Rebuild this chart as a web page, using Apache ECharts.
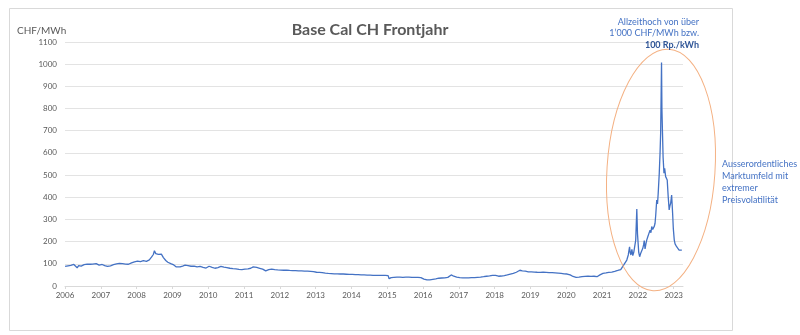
<!DOCTYPE html>
<html>
<head>
<meta charset="utf-8">
<script src="https://cdn.jsdelivr.net/npm/echarts@6/dist/echarts.min.js"></script>
<style>
  html, body { margin: 0; padding: 0; background: #ffffff; }
  #chart { width: 800px; height: 335px; }
</style>
</head>
<body>
<div id="chart"></div>
<script>
// Base Cal CH front-year price, CHF/MWh
const dates = [
  '2006-01-02','2006-02-01','2006-03-01','2006-04-01','2006-04-20','2006-05-05','2006-05-20','2006-06-15','2006-07-15','2006-08-15','2006-09-15','2006-10-10','2006-10-25','2006-11-15','2006-12-15',
  '2007-01-15','2007-02-10','2007-03-10','2007-04-10','2007-05-10','2007-06-10','2007-07-10','2007-08-10','2007-09-10','2007-10-10','2007-11-10','2007-12-10',
  '2008-01-10','2008-02-10','2008-03-10','2008-04-10','2008-05-10','2008-06-01','2008-06-20','2008-07-01','2008-07-15','2008-07-28','2008-08-10','2008-08-25','2008-09-10','2008-10-01','2008-10-25','2008-11-15','2008-12-15',
  '2009-01-15','2009-02-10','2009-03-01','2009-03-20','2009-04-15','2009-05-10','2009-06-10','2009-07-10','2009-08-10','2009-09-10','2009-10-10','2009-11-10','2009-12-10',
  '2010-01-10','2010-02-10','2010-03-10','2010-04-10','2010-05-10','2010-06-10','2010-07-10','2010-08-10','2010-09-10','2010-10-10','2010-11-10','2010-12-10',
  '2011-01-10','2011-02-10','2011-03-10','2011-04-05','2011-05-10','2011-06-10','2011-07-10','2011-08-10','2011-09-10','2011-10-10','2011-11-10','2011-12-10',
  '2012-01-10','2012-02-10','2012-03-10','2012-04-10','2012-05-10','2012-06-10','2012-07-10','2012-08-10','2012-09-10','2012-10-10','2012-11-10','2012-12-10',
  '2013-01-10','2013-02-10','2013-03-10','2013-04-10','2013-05-10','2013-06-10','2013-07-10','2013-08-10','2013-09-10','2013-10-10','2013-11-10','2013-12-10',
  '2014-01-10','2014-02-10','2014-03-10','2014-04-10','2014-05-10','2014-06-10','2014-07-10','2014-08-10','2014-09-10','2014-10-10','2014-11-10','2014-12-10',
  '2015-01-10','2015-01-20','2015-02-10','2015-03-10','2015-04-10','2015-05-10','2015-06-10','2015-07-10','2015-08-10','2015-09-10','2015-10-10','2015-11-10','2015-12-10',
  '2016-01-10','2016-02-10','2016-03-10','2016-04-10','2016-05-10','2016-06-10','2016-07-10','2016-08-10','2016-09-10','2016-10-15','2016-11-10','2016-12-10',
  '2017-01-10','2017-02-10','2017-03-10','2017-04-10','2017-05-10','2017-06-10','2017-07-10','2017-08-10','2017-09-10','2017-10-10','2017-11-10','2017-12-10',
  '2018-01-10','2018-02-10','2018-03-10','2018-04-10','2018-05-10','2018-06-10','2018-07-10','2018-08-10','2018-09-15','2018-10-10','2018-11-10','2018-12-10',
  '2019-01-10','2019-02-10','2019-03-10','2019-04-10','2019-05-10','2019-06-10','2019-07-10','2019-08-10','2019-09-10','2019-10-10','2019-11-10','2019-12-10',
  '2020-01-10','2020-02-10','2020-03-10','2020-04-10','2020-05-10','2020-06-10','2020-07-10','2020-08-10','2020-09-10','2020-10-10','2020-11-10','2020-12-10',
  '2021-01-10','2021-02-10','2021-03-10','2021-04-10','2021-05-10','2021-06-10','2021-07-10','2021-07-25','2021-08-10','2021-08-25','2021-09-10','2021-09-25',
  '2021-10-08','2021-10-15','2021-10-22','2021-11-01','2021-11-10','2021-11-20','2021-12-01','2021-12-10','2021-12-21','2021-12-28',
  '2022-01-10','2022-01-19','2022-01-28','2022-02-10','2022-02-20','2022-02-28','2022-03-07','2022-03-15','2022-03-24','2022-04-01','2022-04-12','2022-04-22',
  '2022-05-05','2022-05-14','2022-05-22','2022-06-01','2022-06-08','2022-06-18','2022-06-25','2022-07-02','2022-07-12','2022-07-20','2022-07-27',
  '2022-08-07','2022-08-15','2022-08-21','2022-08-26','2022-08-30','2022-09-03','2022-09-09','2022-09-15','2022-09-24','2022-10-01','2022-10-11','2022-10-18','2022-10-27',
  '2022-11-06','2022-11-16','2022-11-23','2022-12-01','2022-12-11','2022-12-16','2022-12-21','2022-12-28',
  '2023-01-07','2023-01-15','2023-01-22','2023-01-31','2023-02-08','2023-02-17','2023-02-25','2023-03-07','2023-03-15','2023-03-25'
];

const prices = [
  88, 91, 93, 97, 100, 82, 92, 90, 96, 99, 98, 99, 90, 101, 94,
  97, 92, 88, 91, 96, 100, 102, 101, 99, 98, 104, 109,
  112, 110, 114, 111, 118, 130, 142, 159, 146, 150, 143, 152, 144, 128, 115, 107, 101,
  95, 86, 77, 86, 90, 94, 92, 89, 90, 86, 88, 84, 81,
  89, 84, 80, 83, 88, 85, 83, 80, 78, 77, 75, 74,
  76, 77, 80, 86, 84, 80, 76, 68, 74, 76, 74, 73,
  72, 71, 72, 70, 69, 69, 68, 68, 67, 67, 66, 65,
  62, 61, 60, 58, 57, 56, 55, 55, 54, 54, 53, 52,
  52, 51, 51, 50, 50, 49, 49, 48, 48, 48, 48, 48,
  47, 33, 38, 39, 40, 40, 39, 40, 40, 39, 39, 39, 38,
  31, 28, 28, 30, 32, 35, 36, 37, 39, 50, 44, 40,
  38, 37, 37, 37, 38, 38, 39, 40, 42, 44, 46, 48,
  48, 44, 45, 47, 50, 54, 57, 62, 71, 68, 67, 64,
  64, 63, 62, 61, 62, 61, 60, 60, 59, 58, 57, 55,
  54, 50, 43, 39, 40, 42, 43, 44, 43, 44, 42, 50,
  57, 59, 61, 63, 66, 70, 74, 78, 95, 104, 117, 140,
  177, 150, 140, 165, 137, 152, 160, 207, 347, 235,
  150, 132, 145, 150, 170, 185, 205, 167, 190, 207, 222, 215,
  252, 240, 268, 255, 252, 270, 283, 320, 388, 370, 417,
  509, 600, 689, 860, 1007, 800, 689, 580, 509, 530, 493, 500, 478,
  403, 343, 360, 373, 410, 370, 328, 260,
  207, 190, 195, 177, 182, 170, 162, 155, 168, 162
];

const yearTicks = [2006, 2007, 2008, 2009, 2010, 2011, 2012, 2013, 2014, 2015, 2016, 2017, 2018, 2019, 2020, 2021, 2022, 2023];

// date string -> fractional year for the value axis
function toYear(s) {
  const d = new Date(s + 'T00:00:00Z');
  const y = d.getUTCFullYear();
  const start = Date.UTC(y, 0, 1);
  const end = Date.UTC(y + 1, 0, 1);
  return y + (d.getTime() - start) / (end - start);
}

const seriesData = dates.map((d, i) => [toYear(d), prices[i]]);

const FONT = 'Lato, "Open Sans", sans-serif';
const GREY = '#595959';
const BLUE = '#4472C4';

const chart = echarts.init(document.getElementById('chart'), null, { renderer: 'canvas' });

chart.setOption({
  backgroundColor: '#ffffff',
  animation: false,
  textStyle: { fontFamily: FONT },
  grid: { left: 65, right: 117, top: 42, bottom: 49, containLabel: false },
  xAxis: {
    type: 'value',
    min: yearTicks[0],
    max: 2023.26,
    interval: 1,
    axisLine: { show: true, lineStyle: { color: '#d9d9d9', width: 1 } },
    axisTick: { show: true, length: 3, lineStyle: { color: '#d9d9d9' } },
    splitLine: { show: false },
    axisLabel: {
      color: GREY, fontSize: 8, fontFamily: FONT, margin: 5,
      showMaxLabel: false,
      formatter: v => (yearTicks.indexOf(Math.round(v)) >= 0 && Math.abs(v - Math.round(v)) < 1e-6) ? String(Math.round(v)) : ''
    }
  },
  yAxis: {
    type: 'value',
    min: 0,
    max: 1100,
    interval: 100,
    axisLine: { show: false },
    axisTick: { show: false },
    splitLine: { lineStyle: { color: '#e3e3e3', width: 1 } },
    axisLabel: { color: GREY, fontSize: 8, fontFamily: FONT, margin: 8, formatter: v => String(v) }
  },
  series: [{
    type: 'line',
    data: seriesData,
    showSymbol: false,
    symbol: 'none',
    smooth: false,
    lineStyle: { color: BLUE, width: 1.3 },
    z: 3
  }],
  graphic: [
    {
      type: 'rect', z: -10, silent: true,
      shape: { x: 9.5, y: 8.5, width: 723, height: 322 },
      style: { fill: '#ffffff', stroke: '#d9d9d9', lineWidth: 1 }
    },
    {
      type: 'text', x: 370, y: 22, z: 10,
      style: { text: 'Base Cal CH Frontjahr', fill: GREY, font: 'bold 16px ' + FONT, align: 'center' }
    },
    {
      type: 'text', x: 17, y: 26, z: 10,
      style: { text: 'CHF/MWh', fill: GREY, font: '10px ' + FONT }
    },
    {
      type: 'text', x: 699, y: 16, z: 10,
      style: {
        text: 'Allzeithoch von über\n1\u2019000 CHF/MWh bzw.\n{b|100 Rp./kWh}',
        fill: BLUE, font: '9px ' + FONT, align: 'right', lineHeight: 11.5,
        rich: { b: { fill: '#2F5597', font: 'bold 9px ' + FONT, lineHeight: 11.5 } }
      }
    },
    {
      type: 'text', x: 722, y: 158, z: 10,
      style: {
        text: 'Ausserordentliches\nMarktumfeld mit\nextremer\nPreisvolatilität',
        fill: BLUE, font: '9px ' + FONT, align: 'left', lineHeight: 12
      }
    },
    {
      type: 'ellipse', z: 5, silent: true,
      x: 661, y: 170, rotation: -0.066,
      shape: { cx: 0, cy: 0, rx: 54, ry: 121 },
      style: { fill: 'none', stroke: '#F4B183', lineWidth: 1 }
    }
  ]
});
</script>
</body>
</html>
